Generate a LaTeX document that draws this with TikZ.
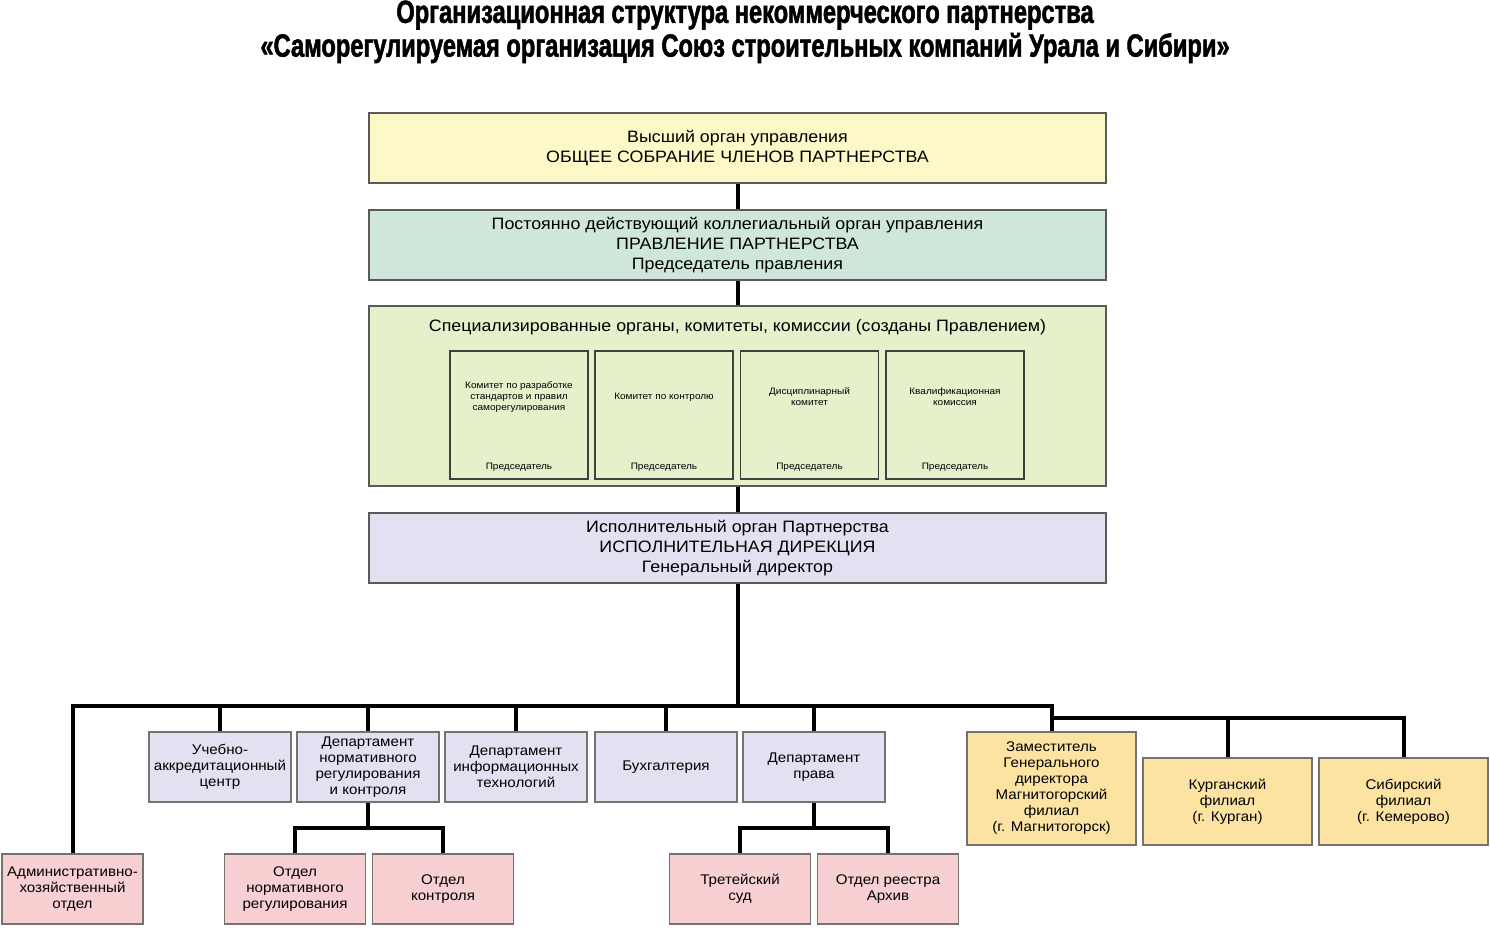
\documentclass[tikz,border=0pt]{standalone}
\usepackage{fontspec}
\setmainfont{Liberation Sans}[FakeStretch=1.08]
\newfontfamily\titlefont{Liberation Sans}[FakeStretch=0.74,BoldFeatures={FakeBold=1.6}]
\definecolor{cyel}{HTML}{FCF8C8}
\definecolor{cteal}{HTML}{CFE7DA}
\definecolor{cgreen}{HTML}{E6F0CB}
\definecolor{clav}{HTML}{E3E1F1}
\definecolor{corg}{HTML}{FCE3A2}
\definecolor{cpink}{HTML}{F8D0D1}
\definecolor{cbord}{HTML}{5A5A5A}
\begin{document}
\begin{tikzpicture}[x=1pt,y=-1pt,
  mainbox/.style={draw=cbord,line width=1.5pt,minimum width=737pt,minimum height=70pt,align=center,inner sep=0pt,font=\fontsize{16.5}{20}\selectfont},
  combox/.style={draw=black!75,line width=1.8pt,fill=cgreen,minimum width=138pt,minimum height=128pt,inner sep=0pt},
  comtext/.style={align=center,font=\fontsize{9.3}{11}\selectfont,inner sep=0pt},
  lowbox/.style={draw=black!55,line width=1.3pt,minimum width=142pt,minimum height=70pt,align=center,inner sep=0pt,font=\fontsize{14}{16}\selectfont},
  filbox/.style={draw=black!55,line width=1.3pt,minimum width=169pt,align=center,inner sep=0pt,fill=corg,font=\fontsize{14}{16}\selectfont},
  conn/.style={line width=4pt,black}]
\useasboundingbox (0,0) rectangle (1490,927);
\fill[white] (0,0) rectangle (1490,927);
% title
\node[font=\titlefont\bfseries\fontsize{32}{33}\selectfont,inner sep=0pt] (t1) at (745,15) {Организационная структура некоммерческого партнерства};
\node[font=\titlefont\bfseries\fontsize{32}{33}\selectfont,inner sep=0pt] (t2) at (745,48) {«Саморегулируемая организация Союз строительных компаний Урала и Сибири»};
% main boxes
\node[mainbox,fill=cyel] (top) at (737.5,148) {Высший орган управления\\ОБЩЕЕ СОБРАНИЕ ЧЛЕНОВ ПАРТНЕРСТВА};
\node[mainbox,fill=cteal] (prav) at (737.5,245) {Постоянно действующий коллегиальный орган управления\\ПРАВЛЕНИЕ ПАРТНЕРСТВА\\Председатель правления};
\node[mainbox,fill=cgreen,minimum height=180pt] (spec) at (737.5,396) {};
\node[font=\fontsize{16.5}{20}\selectfont,inner sep=0pt] (spech) at (737.5,327) {Специализированные органы, комитеты, комиссии (созданы Правлением)};
\node[mainbox,fill=clav] (exec) at (737.5,548) {Исполнительный орган Партнерства\\ИСПОЛНИТЕЛЬНАЯ ДИРЕКЦИЯ\\Генеральный директор};
% committees
\node[combox] (c1) at (519,415) {};
\node[combox] (c2) at (664,415) {};
\node[combox] (c3) at (809.5,415) {};
\node[combox] (c4) at (955,415) {};
\node[comtext] (c1t) at (519,397) {Комитет по разработке\\стандартов и правил\\саморегулирования};
\node[comtext] (c2t) at (664,397) {Комитет по контролю};
\node[comtext] (c3t) at (809.5,397) {Дисциплинарный\\комитет};
\node[comtext] (c4t) at (955,397) {Квалификационная\\комиссия};
\node[comtext] (c1p) at (519,467) {Председатель};
\node[comtext] (c2p) at (664,467) {Председатель};
\node[comtext] (c3p) at (809.5,467) {Председатель};
\node[comtext] (c4p) at (955,467) {Председатель};
% gray row
\node[lowbox,fill=clav] (uch) at (220,767) {Учебно-\\аккредитационный\\центр};
\node[lowbox,fill=clav] (dnr) at (368,767) {Департамент\\нормативного\\регулирования\\и контроля};
\node[lowbox,fill=clav] (dit) at (516,767) {Департамент\\информационных\\технологий};
\node[lowbox,fill=clav] (buh) at (666,767) {Бухгалтерия};
\node[lowbox,fill=clav] (dpr) at (814,767) {Департамент\\права};
% branches
\node[filbox,minimum height=113pt] (zam) at (1051.5,788.5) {Заместитель\\Генерального\\директора\\Магнитогорский\\филиал\\(г. Магнитогорск)};
\node[filbox,minimum height=87pt] (kur) at (1227.5,801.5) {Курганский\\филиал\\(г. Курган)};
\node[filbox,minimum height=87pt] (sib) at (1403.5,801.5) {Сибирский\\филиал\\(г. Кемерово)};
% pink row
\node[lowbox,fill=cpink,minimum width=141pt] (adm) at (72.5,889) {Административно-\\хозяйственный\\отдел};
\node[lowbox,fill=cpink,minimum width=141pt] (onr) at (295,889) {Отдел\\нормативного\\регулирования};
\node[lowbox,fill=cpink,minimum width=141pt] (ok) at (443,889) {Отдел\\контроля};
\node[lowbox,fill=cpink,minimum width=141pt] (ts) at (740,889) {Третейский\\суд};
\node[lowbox,fill=cpink,minimum width=141pt] (orr) at (888,889) {Отдел реестра\\Архив};
% coordinates
\coordinate (bus) at (737.5,706);
\coordinate (busR) at (1051.5,706);
\coordinate (bus2) at (1051.5,718);
\coordinate (sb1) at (368,828);
\coordinate (sb2) at (814,828);
% connectors
\draw[conn] (top.south) -- (prav.north);
\draw[conn] (prav.south) -- (spec.north);
\draw[conn] (spec.south) -- (exec.north);
\draw[conn] (exec.south) -- (bus);
\draw[conn,line join=miter] (adm.north) |- (busR) -- (zam.north);
\draw[conn,line join=miter] (bus2) -| (kur.north);
\draw[conn,line join=miter] (bus2) -| (sib.north);
\draw[conn] (uch.north) -- (uch.north |- bus);
\draw[conn] (dnr.north) -- (dnr.north |- bus);
\draw[conn] (dit.north) -- (dit.north |- bus);
\draw[conn] (buh.north) -- (buh.north |- bus);
\draw[conn] (dpr.north) -- (dpr.north |- bus);
\draw[conn] (dnr.south) -- (dnr.south |- sb1);
\draw[conn,line join=miter] (onr.north) |- (sb1) -| (ok.north);
\draw[conn] (dpr.south) -- (dpr.south |- sb2);
\draw[conn,line join=miter] (ts.north) |- (sb2) -| (orr.north);
\end{tikzpicture}
\end{document}
